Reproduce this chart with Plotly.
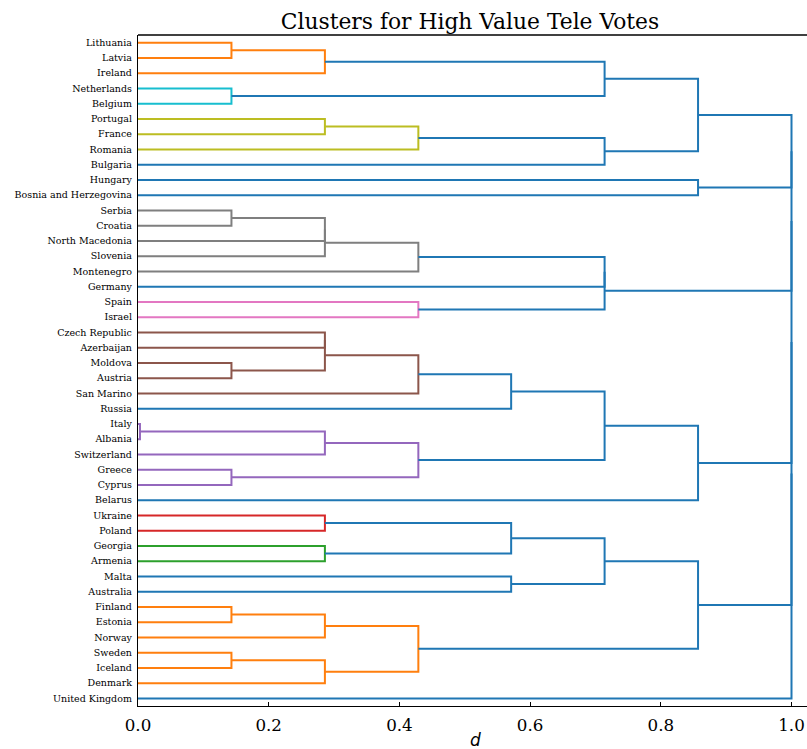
import plotly.graph_objects as go

# ---------------- data ----------------
leaves = [
    "Lithuania", "Latvia", "Ireland", "Netherlands", "Belgium", "Portugal",
    "France", "Romania", "Bulgaria", "Hungary", "Bosnia and Herzegovina",
    "Serbia", "Croatia", "North Macedonia", "Slovenia", "Montenegro",
    "Germany", "Spain", "Israel", "Czech Republic", "Azerbaijan", "Moldova",
    "Austria", "San Marino", "Russia", "Italy", "Albania", "Switzerland",
    "Greece", "Cyprus", "Belarus", "Ukraine", "Poland", "Georgia", "Armenia",
    "Malta", "Australia", "Finland", "Estonia", "Norway", "Sweden", "Iceland",
    "Denmark", "United Kingdom",
]

# merge id, left child, right child
merge_ids = ["L1", "L2", "N1", "A1", "P1", "P2", "A2", "A", "B",
             "S1", "S2", "S3", "S4", "C1", "E1", "C",
             "D1", "D2", "D3", "D4", "D5", "I1", "I2", "G1", "I3", "D6", "D",
             "U1", "U2", "U3", "U4", "U5", "F1", "F2", "F3", "F4", "F5", "E",
             "R1", "R2", "R3", "R4", "R5"]
merge_left = ["Lithuania", "L1", "Netherlands", "L2", "Portugal", "P1", "P2", "A1", "Hungary",
              "Serbia", "S1", "S2", "S3", "S4", "Spain", "C1",
              "Czech Republic", "Moldova", "D1", "D3", "D4", "Italy", "I1", "Greece", "I2", "D5", "D6",
              "Ukraine", "Georgia", "U1", "Malta", "U3", "Finland", "F1", "Sweden", "F3", "F2", "U5",
              "A", "R1", "R2", "R3", "R4"]
merge_right = ["Latvia", "Ireland", "Belgium", "N1", "France", "Romania", "Bulgaria", "A2",
               "Bosnia and Herzegovina",
               "Croatia", "North Macedonia", "Slovenia", "Montenegro", "Germany", "Israel", "E1",
               "Azerbaijan", "Austria", "D2", "San Marino", "Russia", "Albania", "Switzerland",
               "Cyprus", "G1", "I3", "Belarus",
               "Poland", "Armenia", "U2", "Australia", "U4", "Estonia", "Norway", "Iceland",
               "Denmark", "F4", "F5",
               "B", "C", "D", "E", "United Kingdom"]
merge_dist = [0.143, 0.286, 0.143, 0.714, 0.286, 0.429, 0.714, 0.857, 0.857,
              0.143, 0.286, 0.286, 0.429, 0.714, 0.429, 0.714,
              0.286, 0.143, 0.286, 0.429, 0.571, 0.003, 0.286, 0.143, 0.429, 0.714, 0.857,
              0.286, 0.286, 0.571, 0.571, 0.714, 0.143, 0.286, 0.143, 0.286, 0.429, 0.857,
              1.0, 1.0, 1.0, 1.0, 1.0]
merge_color = ["C1", "C1", "C9", "C0", "C8", "C8", "C0", "C0", "C0",
               "C7", "C7", "C7", "C7", "C0", "C6", "C0",
               "C5", "C5", "C5", "C5", "C0", "C4", "C4", "C4", "C4", "C0", "C0",
               "C3", "C2", "C0", "C0", "C0", "C1", "C1", "C1", "C1", "C1", "C0",
               "C0", "C0", "C0", "C0", "C0"]

x_ticks = [0.0, 0.2, 0.4, 0.6, 0.8, 1.0]
x_tick_labels = ["0.0", "0.2", "0.4", "0.6", "0.8", "1.0"]

# ---------------- styles ----------------
palette = {"C0": "#1f77b4", "C1": "#ff7f0e", "C2": "#2ca02c", "C3": "#d62728",
           "C4": "#9467bd", "C5": "#8c564b", "C6": "#e377c2", "C7": "#7f7f7f",
           "C8": "#bcbd22", "C9": "#17becf"}

# ---------------- dendrogram geometry ----------------
pos = {name: i for i, name in enumerate(leaves)}
height = {name: 0.0 for name in leaves}
segs = {}
for mid, l, r, d, c in zip(merge_ids, merge_left, merge_right, merge_dist, merge_color):
    yl, yr = pos[l], pos[r]
    xs = [height[l], d, d, height[r], None]
    ys = [yl, yl, yr, yr, None]
    sx, sy = segs.setdefault(c, ([], []))
    sx.extend(xs)
    sy.extend(ys)
    pos[mid] = (yl + yr) / 2
    height[mid] = d

fig = go.Figure()
order = ["C1", "C9", "C8", "C7", "C6", "C5", "C4", "C3", "C2", "C0"]
for c in order:
    if c in segs:
        sx, sy = segs[c]
        fig.add_trace(go.Scatter(x=sx, y=sy, mode="lines",
                                 line=dict(color=palette[c], width=2),
                                 hoverinfo="skip", showlegend=False))

W, H = 807, 749
L, R, T, B = 138, 0, 35, 43

fig.update_layout(
    width=W, height=H,
    margin=dict(l=L, r=R, t=T, b=B),
    paper_bgcolor="white", plot_bgcolor="white",
    showlegend=False,
    title=dict(text="Clusters for High Value Tele Votes",
               font=dict(family="DejaVu Serif", size=21.8, color="black"),
               x=470 / W, xref="container", xanchor="center",
               y=1 - 21 / H, yref="container", yanchor="middle"),
    xaxis=dict(range=[0, (W - L) / 653.5], tickvals=x_ticks, ticktext=x_tick_labels,
               ticks="inside", ticklen=4, tickwidth=1, tickcolor="black",
               showline=True, linecolor="black", linewidth=1.3, mirror=False,
               showgrid=False, zeroline=False, ticklabelstandoff=4,
               tickfont=dict(family="DejaVu Serif", size=16.7, color="black")),
    yaxis=dict(range=[43.5, -0.5], tickvals=list(range(len(leaves))), ticktext=leaves,
               ticks="", showline=True, linecolor="black", linewidth=1.3, mirror=False,
               showgrid=False, zeroline=False, ticklabelstandoff=3,
               tickfont=dict(family="DejaVu Serif", size=9.5, color="black")),
    shapes=[dict(type="line", xref="paper", yref="paper", x0=0, x1=1, y0=1, y1=1,
                 line=dict(color="black", width=1.3), layer="above")],
    annotations=[dict(text="<i>d</i>", xref="paper", yref="paper",
                      x=(475 - L) / (W - L - R), y=(706 - 740) / (706 - 35),
                      xanchor="center", yanchor="middle", showarrow=False,
                      font=dict(family="DejaVu Sans", size=17, color="black"))],
)

fig.write_html("out.html", post_script="document.body.style.margin='0';",
               config={"displayModeBar": False})
